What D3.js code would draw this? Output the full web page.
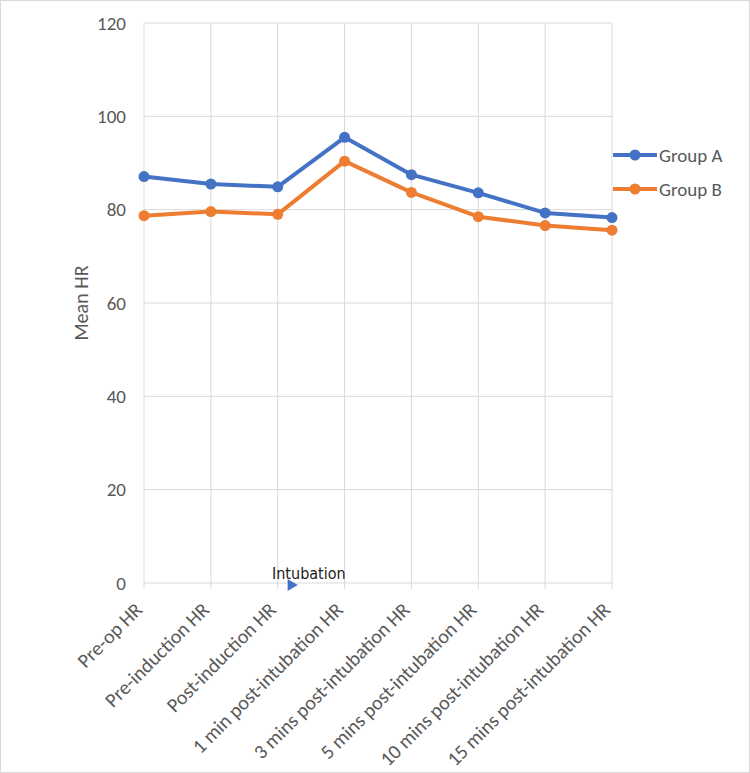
<!DOCTYPE html>
<html>
<head>
<meta charset="utf-8">
<script src="https://cdn.jsdelivr.net/npm/d3@7"></script>
<style>
  body { margin: 0; background: #fff; }
  text { font-family: Carlito, Calibri, "Open Sans", sans-serif; fill: #595959; }
</style>
</head>
<body>
<div class="canvas"></div>
<script>
// DATA
const categories = [
  'Pre-op HR',
  'Pre-induction HR',
  'Post-induction HR',
  '1 min post-intubation HR',
  '3 mins post-intubation HR',
  '5 mins post-intubation HR',
  '10 mins post-intubation HR',
  '15 mins post-intubation HR'
];
const groupA = [87.1, 85.5, 84.9, 95.5, 87.5, 83.6, 79.3, 78.3];
const groupB = [78.7, 79.6, 79.0, 90.4, 83.7, 78.5, 76.6, 75.6];
const yTicks = [0, 20, 40, 60, 80, 100, 120];
const seriesNames = ['Group A', 'Group B'];

const dims = { width: 750, height: 773 };
const plot = { left: 144, right: 612, top: 23, bottom: 583 };
const colors = ['#4472C4', '#ED7D31'];

const svg = d3
  .select('.canvas')
  .append('svg')
  .attr('width', dims.width)
  .attr('height', dims.height);

// OUTER BORDER
svg
  .append('rect')
  .attr('x', 0.5)
  .attr('y', 0.5)
  .attr('width', dims.width - 1)
  .attr('height', dims.height - 1)
  .attr('fill', '#fff')
  .attr('stroke', '#d9d9d9');

// SCALES
const x = d3
  .scalePoint()
  .domain(categories)
  .range([plot.left, plot.right])
  .padding(0);

const y = d3
  .scaleLinear()
  .domain([0, 120])
  .range([plot.bottom, plot.top]);

// GRIDLINES
const grid = svg.append('g');
grid
  .selectAll('line.h')
  .data(yTicks)
  .enter()
  .append('line')
  .attr('class', 'h')
  .attr('x1', plot.left)
  .attr('x2', plot.right)
  .attr('y1', (d) => y(d))
  .attr('y2', (d) => y(d))
  .attr('stroke', '#d9d9d9')
  .attr('stroke-width', 1);

grid
  .selectAll('line.v')
  .data(categories)
  .enter()
  .append('line')
  .attr('class', 'v')
  .attr('x1', (d) => x(d))
  .attr('x2', (d) => x(d))
  .attr('y1', plot.top)
  .attr('y2', plot.bottom + 6)
  .attr('stroke', '#d9d9d9')
  .attr('stroke-width', 1);

// Y AXIS LABELS
const yAxis = d3.axisLeft(y).tickValues(yTicks).tickSize(0).tickPadding(18);
const yG = svg
  .append('g')
  .attr('transform', `translate(${plot.left}, 0)`)
  .call(yAxis);
yG.select('.domain').remove();
yG.selectAll('text')
  .style('font-size', '19px')
  .attr('fill', '#595959');

// X AXIS LABELS
const xAxis = d3.axisBottom(x).tickSize(0).tickPadding(0);
const xG = svg
  .append('g')
  .attr('transform', `translate(0, ${plot.bottom})`)
  .call(xAxis);
xG.select('.domain').remove();
xG.selectAll('text')
  .style('font-size', '20px')
  .attr('fill', '#595959')
  .attr('text-anchor', 'end')
  .attr('dy', 0)
  .attr('y', 0)
  .attr('transform', 'translate(-1, 28) rotate(-45)');

// AXIS TITLE
svg
  .append('text')
  .attr('transform', `translate(88, ${(plot.top + plot.bottom) / 2}) rotate(-90)`)
  .attr('text-anchor', 'middle')
  .style('font-size', '20px')
  .text('Mean HR');

// LINES
const series = [groupA, groupB];
const line = d3
  .line()
  .x((d, i) => x(categories[i]))
  .y((d) => y(d));

series.forEach((vals, s) => {
  svg
    .append('path')
    .datum(vals)
    .attr('fill', 'none')
    .attr('stroke', colors[s])
    .attr('stroke-width', 4)
    .attr('stroke-linejoin', 'round')
    .attr('d', line);

  svg
    .append('g')
    .selectAll('circle')
    .data(vals)
    .enter()
    .append('circle')
    .attr('cx', (d, i) => x(categories[i]))
    .attr('cy', (d) => y(d))
    .attr('r', 5.5)
    .attr('fill', colors[s]);
});

// LEGEND
const legend = svg
  .append('g')
  .attr('transform', 'translate(613, 155)');

const items = legend
  .selectAll('g')
  .data(seriesNames)
  .enter()
  .append('g')
  .attr('transform', (d, i) => `translate(0, ${i * 34})`);

items
  .append('line')
  .attr('x1', 0)
  .attr('x2', 44)
  .attr('stroke', (d, i) => colors[i])
  .attr('stroke-width', 4);

items
  .append('circle')
  .attr('cx', 22)
  .attr('r', 5.5)
  .attr('fill', (d, i) => colors[i]);

items
  .append('text')
  .attr('x', 46)
  .attr('dy', '0.35em')
  .style('font-size', '19px')
  .text((d) => d);

// INTUBATION ANNOTATION
svg
  .append('text')
  .attr('x', 272)
  .attr('y', 579)
  .style('font-size', '16px')
  .style('font-family', '"Segoe Print", "Comic Sans MS", "DejaVu Sans Condensed", cursive')
  .style('fill', '#222')
  .text('Intubation');

svg
  .append('path')
  .attr('d', d3.symbol().type(d3.symbolTriangle).size(60)())
  .attr('transform', 'translate(291, 585) rotate(90)')
  .attr('fill', '#4472C4');
</script>
</body>
</html>
